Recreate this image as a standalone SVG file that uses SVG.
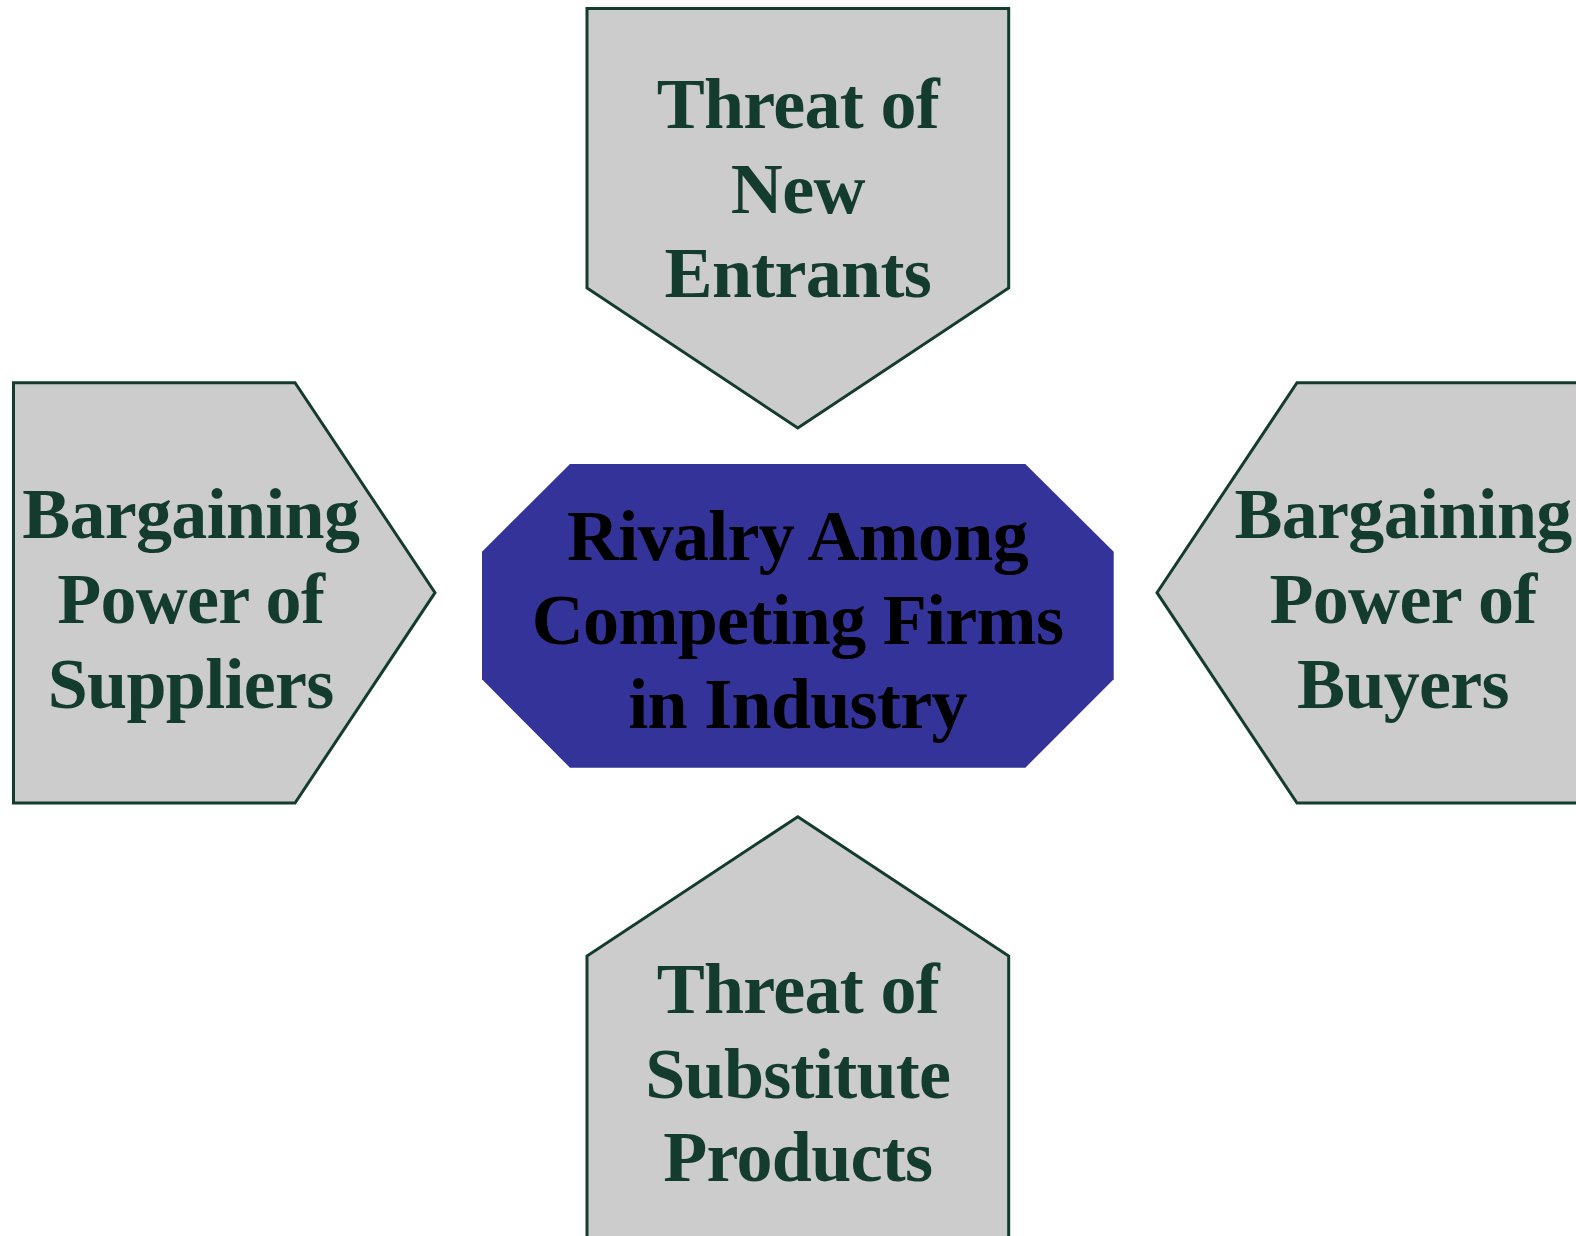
<svg xmlns="http://www.w3.org/2000/svg" width="1576" height="1236" viewBox="0 0 1576 1236">
<style>
.force{fill:#cccccc;stroke:#143c2e;stroke-width:3;stroke-linejoin:miter}
.ft{font-family:"Liberation Serif","Times New Roman",serif;font-weight:bold;font-size:72px;fill:#143c2e;text-anchor:middle;letter-spacing:-0.7px}
.ct{font-family:"Liberation Serif","Times New Roman",serif;font-weight:bold;font-size:72px;fill:#000000;text-anchor:middle;letter-spacing:-0.7px}
</style>
<rect width="1576" height="1236" fill="#ffffff"/>
<g id="connectors"></g>
<g id="new-entrants">
<polygon class="force" points="587,8.5 1008.7,8.5 1008.7,288 797.8,428 587,288"/>
<text class="ft" x="797.8" y="127.7">Threat of</text>
<text class="ft" x="797.8" y="212.7">New</text>
<text class="ft" x="797.8" y="297">Entrants</text>
</g>
<g id="suppliers">
<polygon class="force" points="13.5,382.7 295,382.7 435,592.7 295,803 13.5,803"/>
<text class="ft" x="190.7" y="538.3">Bargaining</text>
<text class="ft" x="190.7" y="623.3">Power of</text>
<text class="ft" x="190.7" y="708">Suppliers</text>
</g>
<g id="buyers">
<polygon class="force" points="1580,382.7 1297,382.7 1157,592.7 1297,803 1580,803"/>
<text class="ft" x="1403" y="538.3">Bargaining</text>
<text class="ft" x="1403" y="623.3">Power of</text>
<text class="ft" x="1403" y="708">Buyers</text>
</g>
<g id="substitutes">
<polygon class="force" points="797.8,816.7 1008.7,956 1008.7,1240 587,1240 587,956"/>
<text class="ft" x="797.8" y="1013.3">Threat of</text>
<text class="ft" x="797.8" y="1097.7">Substitute</text>
<text class="ft" x="797.8" y="1181">Products</text>
</g>
<g id="rivalry">
<polygon points="570,464 1025.3,464 1113.7,551.7 1113.7,679.3 1025.3,767.7 570,767.7 482,679.3 482,551.7" fill="#333399"/>
<text class="ct" x="797.5" y="560">Rivalry Among</text>
<text class="ct" x="797.5" y="644">Competing Firms</text>
<text class="ct" x="797.5" y="728.3">in Industry</text>
</g>
</svg>
